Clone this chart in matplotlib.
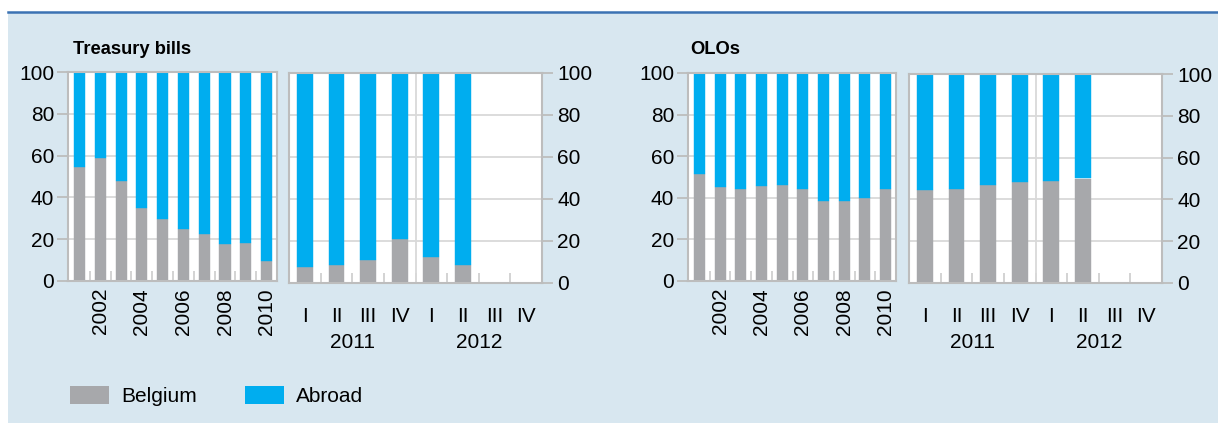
import matplotlib.pyplot as plt
from matplotlib.patches import Rectangle, Patch
from matplotlib.lines import Line2D
import numpy as np

plt.rcParams['font.family'] = ['Liberation Sans', 'DejaVu Sans']

years = [2001, 2002, 2003, 2004, 2005, 2006, 2007, 2008, 2009, 2010]
year_labels = ['', '2002', '', '2004', '', '2006', '', '2008', '', '2010']
quarters = ['I', 'II', 'III', 'IV', 'I', 'II', 'III', 'IV']
quarter_years = ['2011', '2012']

# share held by Belgian residents (%), rest is abroad
tb_belgium_annual = [54.6, 58.9, 47.8, 35.0, 29.8, 24.8, 22.6, 17.8, 18.3, 9.7]
tb_belgium_quarter = [7.5, 8.4, 10.8, 20.9, 12.3, 8.4]
olo_belgium_annual = [51.4, 45.2, 44.1, 45.7, 46.2, 44.1, 38.3, 38.3, 39.9, 44.1]
olo_belgium_quarter = [44.7, 45.2, 46.7, 48.1, 49.0, 50.0]

GREY = '#a7a8ab'
BLUE = '#00adef'
BG = '#d8e7f0'
SPINE = '#bdbdbd'
GRID = '#d9d9d9'
FS = 15
TITLE_FS = 13.2

W, H = 1218, 423
fig = plt.figure(figsize=(W / 100, H / 100), dpi=100, facecolor='white')
fig.add_artist(Rectangle((8 / W, 0), 1 - 8 / W, 1 - 12 / H, transform=fig.transFigure,
                         facecolor=BG, edgecolor='none', zorder=-10))
fig.add_artist(Line2D([8 / W, 1], [1 - 12 / H, 1 - 12 / H], transform=fig.transFigure,
                      color='#3b72b3', lw=1.8, zorder=-9))


def px_axes(x0, x1, ytop, ybot):
    return fig.add_axes([x0 / W, 1 - ybot / H, (x1 - x0) / W, (ybot - ytop) / H])


def style(ax, side):
    ax.set_facecolor('white')
    ax.set_ylim(0, 100)
    ax.set_yticks([0, 20, 40, 60, 80, 100])
    ax.yaxis.grid(True, color=GRID, lw=1.3)
    ax.set_axisbelow(True)
    for s in ax.spines.values():
        s.set_color(SPINE)
        s.set_linewidth(1.5)
    if side == 'left':
        ax.tick_params(axis='y', left=True, right=False, labelleft=True, labelright=False,
                       length=8, width=1.3, color=SPINE, labelsize=FS, pad=2)
    else:
        ax.yaxis.tick_right()
        ax.tick_params(axis='y', left=False, right=True, labelleft=False, labelright=True,
                       length=8, width=1.3, color=SPINE, labelsize=FS, pad=3)
    ax.tick_params(axis='x', which='major', length=0, labelsize=FS)
    ax.tick_params(axis='x', which='minor', direction='in', length=7, width=1.2, color='#cccccc')


def stacked(ax, x, belgium, width):
    b = np.array(belgium)
    ax.bar(x, b, width=width, color=GREY, edgecolor=GREY, lw=0.3, zorder=2)
    ax.bar(x, 100 - b, bottom=b, width=width, color=BLUE, edgecolor=BLUE, lw=0.3, zorder=2)


def annual(ax, belgium):
    x = np.array(years)
    stacked(ax, x, belgium, 0.53)
    ax.set_xlim(2000.45, 2010.5)
    ax.set_xticks(x)
    ax.set_xticklabels(year_labels, rotation=90)
    ax.set_xticks(x[:-1] + 0.5, minor=True)
    style(ax, 'left')
    ax.tick_params(axis='x', which='major', pad=5)


def quarterly(ax, belgium):
    x = np.arange(len(belgium))
    stacked(ax, x, belgium, 0.5)
    ax.set_xlim(-0.5, len(quarters) - 0.5)
    ax.set_xticks(np.arange(len(quarters)))
    ax.set_xticklabels(quarters)
    ax.set_xticks(np.arange(len(quarters) - 1) + 0.5, minor=True)
    ax.axvline(3.5, color=GRID, lw=1.3, zorder=1)
    for i, yr in enumerate(quarter_years):
        ax.text(1.5 + 4 * i, -28.5, yr, ha='center', va='center', fontsize=FS,
                transform=ax.transData, clip_on=False)
    style(ax, 'right')
    ax.tick_params(axis='x', which='major', pad=17)


ax1 = px_axes(68, 277, 72, 281)
annual(ax1, tb_belgium_annual)
ax2 = px_axes(289, 542, 73, 283)
quarterly(ax2, tb_belgium_quarter)
ax3 = px_axes(688, 896, 73, 281)
annual(ax3, olo_belgium_annual)
ax4 = px_axes(909, 1162, 74, 283)
quarterly(ax4, olo_belgium_quarter)

fig.text(73 / W, 1 - 49 / H, 'Treasury bills', fontsize=TITLE_FS, fontweight='bold', va='center', ha='left')
fig.text(690 / W, 1 - 49 / H, 'OLOs', fontsize=TITLE_FS, fontweight='bold', va='center', ha='left')

handles = [Patch(facecolor=GREY, edgecolor='none', label='Belgium'),
           Patch(facecolor=BLUE, edgecolor='none', label='Abroad')]
fig.legend(handles=handles, loc='center left', bbox_to_anchor=(70 / W, 1 - 396 / H),
           ncol=2, frameon=False, fontsize=FS, handlelength=1.87, handleheight=0.96,
           handletextpad=0.58, columnspacing=2.3, borderpad=0, borderaxespad=0)

fig.savefig('out.png', dpi=100, facecolor=fig.get_facecolor())
